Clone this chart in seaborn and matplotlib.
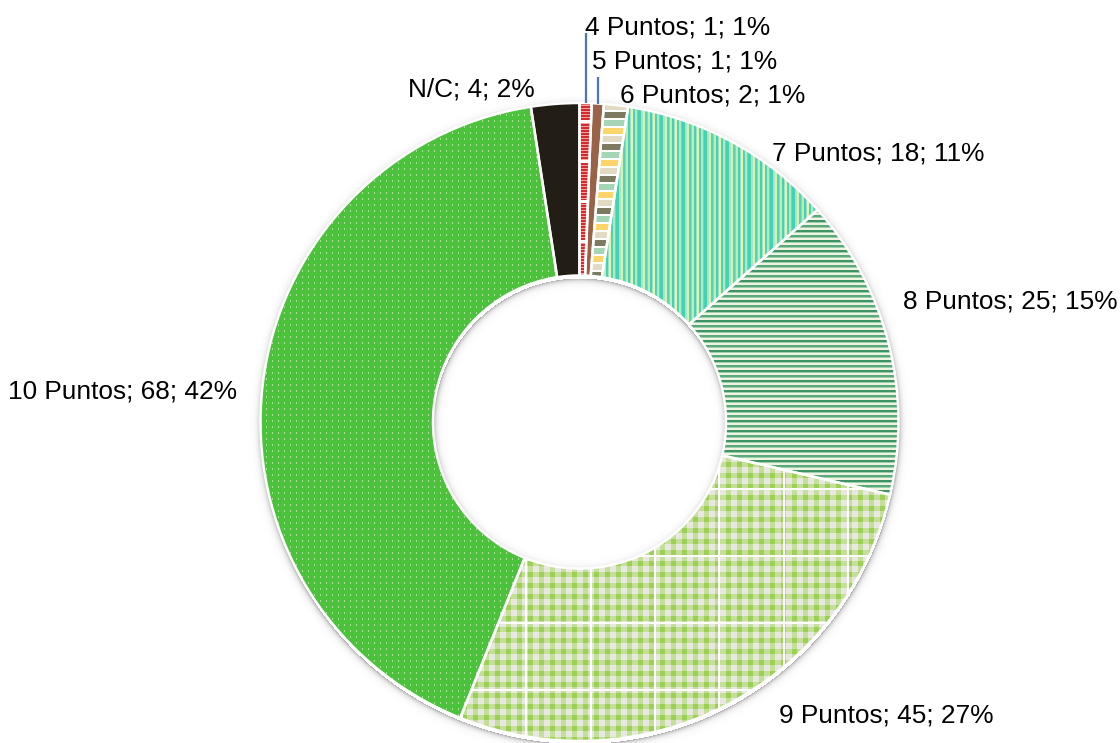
import numpy as np
import matplotlib
matplotlib.use("Agg")
import matplotlib.pyplot as plt
import matplotlib.colors as mcolors
import seaborn as sns

# ---- data -------------------------------------------------------------
categories = ["4 Puntos", "5 Puntos", "6 Puntos", "7 Puntos",
              "8 Puntos", "9 Puntos", "10 Puntos", "N/C"]
counts = [1, 1, 2, 18, 25, 45, 68, 4]
percent_labels = ["1%", "1%", "1%", "11%", "15%", "27%", "42%", "2%"]

# ---- style ------------------------------------------------------------
sns.set_theme(style="white")
plt.rcParams["font.family"] = ["Liberation Sans", "DejaVu Sans"]

W, H = 1120, 743
fig = plt.figure(figsize=(W / 100, H / 100), dpi=100)
ax = fig.add_axes([0, 0, 1, 1])

# ring geometry (pixel units, y measured downward for layout)
cx, cy_px = 579.5, 422.0
R_out, R_in = 319.0, 146.5
center = (cx, H - cy_px)

# ---- textures ---------------------------------------------------------
yy, xx = np.mgrid[0:H, 0:W]


def rgb(h):
    return np.array(mcolors.to_rgb(h))


def solid(h):
    return np.broadcast_to(rgb(h), (H, W, 3)).copy()


def tex_red():
    img = solid("#d42a2c")
    img[(yy % 3) == 0] = rgb("#f2a0a0")
    img[(yy % 40) < 3] = rgb("#ffffff")
    return img


def tex_brown():
    return solid("#9a6246")


def tex_bands():
    img = np.ones((H, W, 3))
    cols = [rgb(h) for h in ("#fdd46a", "#e2dac2", "#7c7b62", "#a4d6b6")]
    band = (yy // 8) % 4
    inside = (yy % 8) < 6
    for i, col in enumerate(cols):
        img[(band == i) & inside] = col
    return img


def tex_pinstripe():
    seq = ["#44d2b2", "#44d2b2", "#44d2b2", "#a6e6c8", "#a6e6c8",
           "#dcefb0", "#dcefb0", "#52d6b6", "#52d6b6", "#7edcbe",
           "#c2ebbc", "#c2ebbc", "#44d2b2", "#44d2b2", "#9ee2c6",
           "#e6f2b4", "#e6f2b4", "#4ed4b4", "#4ed4b4", "#b2e8c2",
           "#b2e8c2", "#6ad8ba"]
    lut = np.array([rgb(h) for h in seq])
    return lut[xx % len(seq)]


def tex_hstripe():
    img = solid("#f0f3e0")
    phase = yy % 5
    alt = ((yy // 5) % 2) == 0
    img[(phase < 2) & alt] = rgb("#3f9466")
    img[(phase < 2) & ~alt] = rgb("#5aa97c")
    img[phase == 2] = rgb("#9ccfae")
    return img


def tex_gingham():
    rb = (yy % 11) < 5
    cb = (xx % 11) < 5
    img = solid("#e9e7e2")
    img[rb ^ cb] = rgb("#c3df98")
    img[rb & cb] = rgb("#9ccf55")
    grid = (((xx - 525) % 64.3) < 2) | (((yy - 19) % 67) < 2)
    img[grid] = rgb("#ffffff")
    return img


def tex_dots():
    img = solid("#4bc13c")
    img[((xx % 6) == 2) & ((yy % 6) < 2)] = rgb("#a8e09a")
    return img


def tex_dark():
    return solid("#221e15")


textures = [tex_red, tex_brown, tex_bands, tex_pinstripe,
            tex_hstripe, tex_gingham, tex_dots, tex_dark]

# ---- soft shadow around the ring --------------------------------------
sy = cy_px + 2.5
rr = np.hypot(xx - cx, yy - sy)
dist = np.where(rr > R_out, rr - R_out, np.where(rr < R_in, R_in - rr, 0.0))
shadow = np.zeros((H, W, 4))
shadow[..., :3] = 0.35
shadow[..., 3] = np.where(dist > 0, 0.5 * np.exp(-dist / 2.5), 0.0)
ax.imshow(shadow, extent=(0, W, 0, H), origin="upper", zorder=0,
          interpolation="bilinear")

# ---- donut ------------------------------------------------------------
wedges, _ = ax.pie(counts, startangle=90, counterclock=False, center=center,
                   radius=R_out,
                   wedgeprops=dict(width=R_out - R_in, linewidth=0,
                                   edgecolor="none"),
                   frame=True)
for w, make in zip(wedges, textures):
    w.set_zorder(1)
    im = ax.imshow(make(), extent=(0, W, 0, H), origin="upper", zorder=2,
                   interpolation="nearest")
    im.set_clip_path(w)

# white separators on top of the fills
edges, _ = ax.pie(counts, startangle=90, counterclock=False, center=center,
                  radius=R_out,
                  wedgeprops=dict(width=R_out - R_in, linewidth=1.8,
                                  edgecolor="white", facecolor="none"),
                  frame=True)
for e in edges:
    e.set_zorder(3)

# ---- labels -----------------------------------------------------------
label_anchor = [(585, 34), (592, 68.5), (620, 103), (772, 161),
                (903, 309), (779, 723), (8, 399), (408, 97)]
for name, n, pct, (lx, ly) in zip(categories, counts, percent_labels,
                                  label_anchor):
    ax.text(lx, H - ly, f"{name}; {n}; {pct}", fontsize=18.9,
            color="#000000", ha="left", va="baseline", zorder=5)

# leader lines for the two thinnest slices
for w, top in zip(wedges[:2], (33, 77)):
    mid = np.deg2rad((w.theta1 + w.theta2) / 2)
    x0 = cx + R_out * np.cos(mid)
    y0 = center[1] + R_out * np.sin(mid)
    ax.plot([x0, x0], [y0, H - top], color="#4a76c0", lw=1.6, zorder=4,
            solid_capstyle="butt")

ax.set_xlim(0, W)
ax.set_ylim(0, H)
ax.set_aspect("equal")
ax.axis("off")
fig.savefig("out.png", dpi=100, facecolor="white")
